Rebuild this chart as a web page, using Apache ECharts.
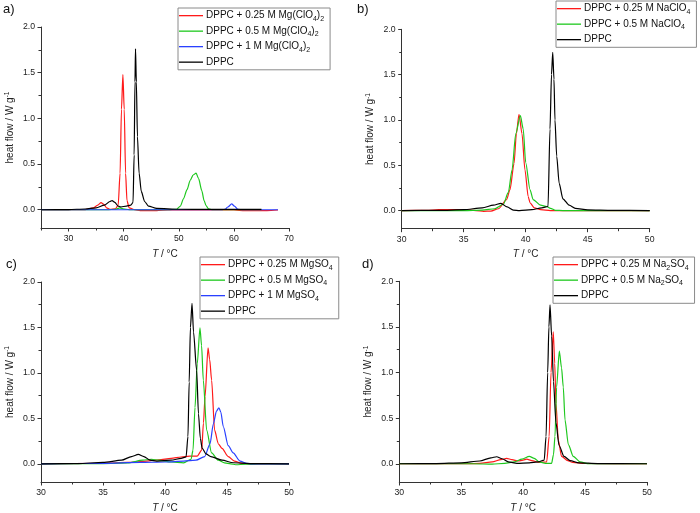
<!DOCTYPE html>
<html><head><meta charset="utf-8">
<script src="https://cdn.jsdelivr.net/npm/echarts@6/dist/echarts.min.js"></script>
<style>html,body{margin:0;padding:0;background:#fff}#c{width:700px;height:513px}</style>
</head><body><div id="c"></div>
<script>
// ---------- DATA (T / °C, heat flow / W g-1) ----------
// Panel a: Mg(ClO4)2
const a_025 = [[25,0],[30,0],[33,0.002],[34.5,0.02],[35.3,0.05],[35.9,0.077],[36.4,0.06],[36.9,0.02],[37.5,0.005],[38.5,0.01],[39.0,0.05],[39.35,0.4],[39.6,1.1],[39.86,1.48],[40.1,1.1],[40.35,0.4],[40.6,0.1],[41,0.02],[42,0],[43,-0.01],[46,-0.01],[48,-0.002],[55,0],[60,-0.003],[62,-0.01],[66,-0.01],[68,-0.003]];
const a_05 = [[25,0],[37,0],[38.5,0.005],[39.3,0.02],[39.9,0.01],[41,0],[48,0],[49.6,0.005],[50.3,0.04],[50.85,0.12],[51.5,0.22],[52.06,0.32],[52.6,0.38],[53.14,0.40],[53.6,0.34],[54.17,0.21],[54.6,0.1],[54.95,0.045],[55.4,0.01],[56,0],[65,0]];
const a_1 = [[25,0],[40,0],[57.8,0],[58.4,0.005],[58.9,0.03],[59.6,0.063],[60.1,0.04],[60.7,0.005],[61.5,0],[68,0]];
const a_dppc = [[25,0],[30,0.002],[33,0.008],[35,0.02],[36.5,0.05],[37.5,0.09],[37.9,0.1],[38.4,0.08],[39,0.04],[39.5,0.03],[40.5,0.04],[41.3,0.05],[41.7,0.08],[41.9,0.6],[42.05,1.4],[42.15,1.76],[42.3,1.4],[42.5,0.8],[42.8,0.4],[43.2,0.2],[43.8,0.09],[44.5,0.04],[46,0.015],[50,0.005],[55,0.003],[60,0.003],[65,0.003]];
// Panel b: NaClO4
const b_025 = [[30,0],[32,0.003],[33,0.01],[34,0.012],[35,0.008],[36,0],[36.6,-0.008],[37.2,-0.005],[37.8,0.02],[38.46,0.12],[38.73,0.23],[39.06,0.52],[39.25,0.85],[39.46,1.063],[39.7,0.85],[39.94,0.45],[40.2,0.155],[40.35,0.085],[40.7,0.03],[41.2,0.01],[42,0],[50,0]];
const b_05 = [[30,0],[35,0],[36.5,0.005],[37.5,0.02],[38.2,0.07],[38.6,0.2],[38.9,0.45],[39.2,0.85],[39.57,1.047],[39.8,0.9],[40.0,0.53],[40.35,0.23],[40.6,0.12],[41.2,0.06],[41.7,0.045],[42.0,0.025],[42.4,0.003],[43,0],[50,0]];
const b_dppc = [[30,0],[33,0.002],[35,0.01],[36.5,0.03],[37.4,0.06],[38.0,0.08],[38.5,0.04],[39.0,0.005],[39.5,0],[40.5,0.01],[41.3,0.03],[41.8,0.045],[41.96,0.9],[42.08,1.5],[42.18,1.746],[42.28,1.45],[42.36,1.0],[42.5,0.6],[42.7,0.3],[43,0.13],[43.5,0.06],[44,0.025],[45,0.008],[47,0.002],[50,0]];
// Panel c: MgSO4
const c_025 = [[30,0],[35,0.005],[37,0.015],[38.5,0.03],[39.5,0.045],[40.5,0.06],[41.3,0.075],[42.0,0.085],[42.6,0.085],[42.96,0.15],[43.1,0.45],[43.23,0.74],[43.47,1.277],[43.6,1.15],[43.76,0.92],[44.0,0.37],[44.3,0.22],[44.6,0.17],[45.1,0.08],[45.6,0.03],[46.2,0.005],[47,0],[50,0]];
const c_05 = [[30,0],[35,0.003],[37,0.01],[38.2,0.04],[38.9,0.05],[39.5,0.04],[40.5,0.02],[41.5,0.01],[42.1,0.05],[42.26,0.15],[42.42,0.62],[42.6,1.1],[42.82,1.497],[42.95,1.3],[43.09,0.92],[43.36,0.37],[43.76,0.12],[44.3,0.04],[44.8,0.01],[45.3,0],[45.7,-0.01],[46.5,-0.005],[47.5,0],[50,0]];
const c_1 = [[30,0],[35,0.005],[38,0.015],[40,0.02],[41.5,0.03],[42.5,0.04],[43.2,0.08],[43.63,0.22],[43.9,0.44],[44.15,0.58],[44.35,0.617],[44.5,0.57],[44.7,0.41],[45.1,0.2],[45.5,0.12],[46.05,0.03],[46.6,0.005],[47,0],[50,0]];
const c_dppc = [[30,0],[33,0.003],[35,0.015],[36.5,0.04],[37.3,0.08],[37.85,0.103],[38.3,0.08],[38.8,0.04],[39.3,0.03],[40.5,0.04],[41.3,0.06],[41.7,0.077],[41.85,0.3],[41.95,0.9],[42.05,1.5],[42.18,1.766],[42.3,1.45],[42.55,1.03],[42.7,0.55],[42.85,0.28],[43.0,0.17],[43.3,0.11],[43.7,0.08],[44.6,0.04],[45.5,0.012],[47,0.003],[50,0]];
// Panel d: Na2SO4
const d_025 = [[30,0],[35,0],[36.5,0.005],[37.5,0.02],[38.2,0.045],[38.67,0.06],[39.1,0.045],[39.6,0.03],[40.0,0.04],[40.29,0.05],[40.7,0.035],[41.3,0.015],[41.9,0.02],[42.1,0.3],[42.25,1.0],[42.43,1.447],[42.55,1.1],[42.65,0.66],[42.84,0.26],[43.1,0.08],[43.6,0.035],[44,0.015],[45,0.003],[50,0]];
const d_05 = [[30,0],[36,0],[37.5,-0.005],[38.5,0.005],[39.3,0.02],[39.9,0.05],[40.5,0.08],[40.9,0.06],[41.3,0.02],[41.8,0.005],[42.3,0.005],[42.45,0.1],[42.57,0.3],[42.7,0.84],[42.92,1.236],[43.1,1.05],[43.24,0.84],[43.38,0.48],[43.65,0.21],[44.05,0.08],[44.6,0.02],[45.3,0],[50,0]];
const d_dppc = [[30,0],[33,0.002],[35,0.01],[36.5,0.03],[37.4,0.065],[37.86,0.077],[38.3,0.055],[38.8,0.02],[39.5,0.005],[40.5,0.01],[41.2,0.02],[41.7,0.04],[41.85,0.3],[41.98,1.0],[42.08,1.5],[42.17,1.743],[42.3,1.4],[42.45,0.9],[42.65,0.45],[42.9,0.2],[43.3,0.08],[43.8,0.035],[44.5,0.01],[46,0.002],[50,0]];

// tick labels
const yMajor = [0, 0.5, 1.0, 1.5, 2.0];
const yMinor = [0.25, 0.75, 1.25, 1.75];
const xMajorA = [30, 40, 50, 60, 70];
const xMinorA = [25, 35, 45, 55, 65];
const xMajor = [30, 35, 40, 45, 50];
const xMinor = [32.5, 37.5, 42.5, 47.5];

const names = {
  a: ['DPPC + 0.25 M Mg(ClO4)2', 'DPPC + 0.5 M Mg(ClO4)2', 'DPPC + 1 M Mg(ClO4)2', 'DPPC'],
  b: ['DPPC + 0.25 M NaClO4', 'DPPC + 0.5 M NaClO4', 'DPPC '],
  c: ['DPPC + 0.25 M MgSO4', 'DPPC + 0.5 M MgSO4', 'DPPC + 1 M MgSO4', 'DPPC  '],
  d: ['DPPC + 0.25 M Na2SO4', 'DPPC + 0.5 M Na2SO4', 'DPPC   ']
};
const richNames = {
  'DPPC + 0.25 M Mg(ClO4)2': 'DPPC + 0.25 M Mg(ClO{s|4}){s|2}',
  'DPPC + 0.5 M Mg(ClO4)2': 'DPPC + 0.5 M Mg(ClO{s|4}){s|2}',
  'DPPC + 1 M Mg(ClO4)2': 'DPPC + 1 M Mg(ClO{s|4}){s|2}',
  'DPPC + 0.25 M NaClO4': 'DPPC + 0.25 M NaClO{s|4}',
  'DPPC + 0.5 M NaClO4': 'DPPC + 0.5 M NaClO{s|4}',
  'DPPC + 0.25 M MgSO4': 'DPPC + 0.25 M MgSO{s|4}',
  'DPPC + 0.5 M MgSO4': 'DPPC + 0.5 M MgSO{s|4}',
  'DPPC + 1 M MgSO4': 'DPPC + 1 M MgSO{s|4}',
  'DPPC + 0.25 M Na2SO4': 'DPPC + 0.25 M Na{s|2}SO{s|4}',
  'DPPC + 0.5 M Na2SO4': 'DPPC + 0.5 M Na{s|2}SO{s|4}'
};

const RED = '#ff1a1a', GREEN = '#1ec81e', BLUE = '#2a40ff', BLACK = '#000000';
const FONT = 'Liberation Sans, Arial, sans-serif';
const AX = '#333';

const grids = [
  {left: 41, top: 27, width: 248, height: 201},
  {left: 401.7, top: 29.3, width: 248, height: 199.4},
  {left: 41, top: 282, width: 248, height: 200},
  {left: 399.3, top: 281.3, width: 247.7, height: 200.7}
];

const xAxes = [], yAxes = [];
grids.forEach((g, i) => {
  const isA = i === 0;
  const xmin = isA ? 25 : 30, xmax = isA ? 70 : 50;
  const maj = isA ? xMajorA : xMajor, min = isA ? xMinorA : xMinor;
  xAxes.push({
    type: 'value', gridIndex: i, min: xmin, max: xmax, position: 'bottom',
    axisLine: {show: true, onZero: false, lineStyle: {color: AX, width: 1}},
    axisTick: {show: true, customValues: maj, length: 3.5, inside: false, lineStyle: {color: AX}},
    axisLabel: {show: true, customValues: maj, color: '#222', fontSize: 8.7, fontFamily: FONT, margin: 6},
    splitLine: {show: false},
    name: '{i|T} / °C', nameLocation: 'middle', nameGap: 21,
    nameTextStyle: {color: '#222', fontSize: 10, fontFamily: FONT, rich: {i: {fontStyle: 'italic', fontSize: 10, fontFamily: FONT, color: '#222'}}}
  });
  xAxes.push({
    type: 'value', gridIndex: i, min: xmin, max: xmax, position: 'bottom',
    axisLine: {show: false, onZero: false},
    axisTick: {show: true, customValues: min, length: 2.5, lineStyle: {color: AX}},
    axisLabel: {show: false}, splitLine: {show: false}
  });
  yAxes.push({
    type: 'value', gridIndex: i, min: -0.2, max: 2.0, position: 'left',
    axisLine: {show: true, onZero: false, lineStyle: {color: AX, width: 1}},
    axisTick: {show: true, customValues: yMajor, length: 3.5, lineStyle: {color: AX}},
    axisLabel: {show: true, customValues: yMajor, color: '#222', fontSize: 8.7, fontFamily: FONT, margin: 6,
      formatter: v => v.toFixed(1)},
    splitLine: {show: false},
    name: 'heat flow / W g{p|-1}', nameLocation: 'middle', nameGap: 25,
    nameTextStyle: {color: '#222', fontSize: 10, fontFamily: FONT, lineHeight: 12,
      rich: {p: {fontSize: 6.5, verticalAlign: 'top', lineHeight: 6, fontFamily: FONT, color: '#222'}}}
  });
  yAxes.push({
    type: 'value', gridIndex: i, min: -0.2, max: 2.0, position: 'left',
    axisLine: {show: false, onZero: false},
    axisTick: {show: true, customValues: yMinor, length: 2.5, lineStyle: {color: AX}},
    axisLabel: {show: false}, splitLine: {show: false}
  });
});

function ser(name, data, color, gi) {
  return {
    name, type: 'line', data, xAxisIndex: gi * 2, yAxisIndex: gi * 2,
    symbol: 'none', showSymbol: false, smooth: 0.25, smoothMonotone: 'x',
    lineStyle: {color, width: 1.2}, itemStyle: {color}, animation: false, silent: true
  };
}

const series = [
  ser(names.a[0], a_025, RED, 0), ser(names.a[1], a_05, GREEN, 0), ser(names.a[2], a_1, BLUE, 0), ser(names.a[3], a_dppc, BLACK, 0),
  ser(names.b[0], b_025, RED, 1), ser(names.b[1], b_05, GREEN, 1), ser(names.b[2], b_dppc, BLACK, 1),
  ser(names.c[0], c_025, RED, 2), ser(names.c[1], c_05, GREEN, 2), ser(names.c[2], c_1, BLUE, 2), ser(names.c[3], c_dppc, BLACK, 2),
  ser(names.d[0], d_025, RED, 3), ser(names.d[1], d_05, GREEN, 3), ser(names.d[2], d_dppc, BLACK, 3)
];

function legend(data, left, top) {
  return {
    data, left, top, orient: 'vertical', itemWidth: 24, itemHeight: 1.3, itemGap: 2.2,
    icon: 'rect',
    selectedMode: false, backgroundColor: '#fff', borderColor: '#8a8a8a', borderWidth: 1,
    padding: [1, 6, 1, 1],
    formatter: n => richNames[n] || 'DPPC',
    textStyle: {fontSize: 10, fontFamily: FONT, color: '#111', lineHeight: 13.3, padding: [0, 0, 0, -2],
      rich: {s: {fontSize: 7, verticalAlign: 'bottom', lineHeight: 7, fontFamily: FONT, color: '#111'}}}
  };
}

const chart = echarts.init(document.getElementById('c'), null, {renderer: 'canvas'});
chart.setOption({
  animation: false,
  backgroundColor: '#fff',
  textStyle: {fontFamily: FONT},
  grid: grids.map(g => Object.assign({containLabel: false, outerBoundsMode: 'none'}, g)),
  xAxis: xAxes,
  yAxis: yAxes,
  legend: [
    legend(names.a, 178, 8),
    legend(names.b, 556, 1),
    legend(names.c, 200, 257),
    legend(names.d, 553, 257)
  ],
  graphic: [
    {type: 'text', left: 3, top: 3, style: {text: 'a)', fontSize: 13, fontFamily: FONT, fill: '#111'}},
    {type: 'text', left: 357, top: 3, style: {text: 'b)', fontSize: 13, fontFamily: FONT, fill: '#111'}},
    {type: 'text', left: 6, top: 258, style: {text: 'c)', fontSize: 13, fontFamily: FONT, fill: '#111'}},
    {type: 'text', left: 362, top: 258, style: {text: 'd)', fontSize: 13, fontFamily: FONT, fill: '#111'}}
  ],
  series
});
</script>
</body></html>
